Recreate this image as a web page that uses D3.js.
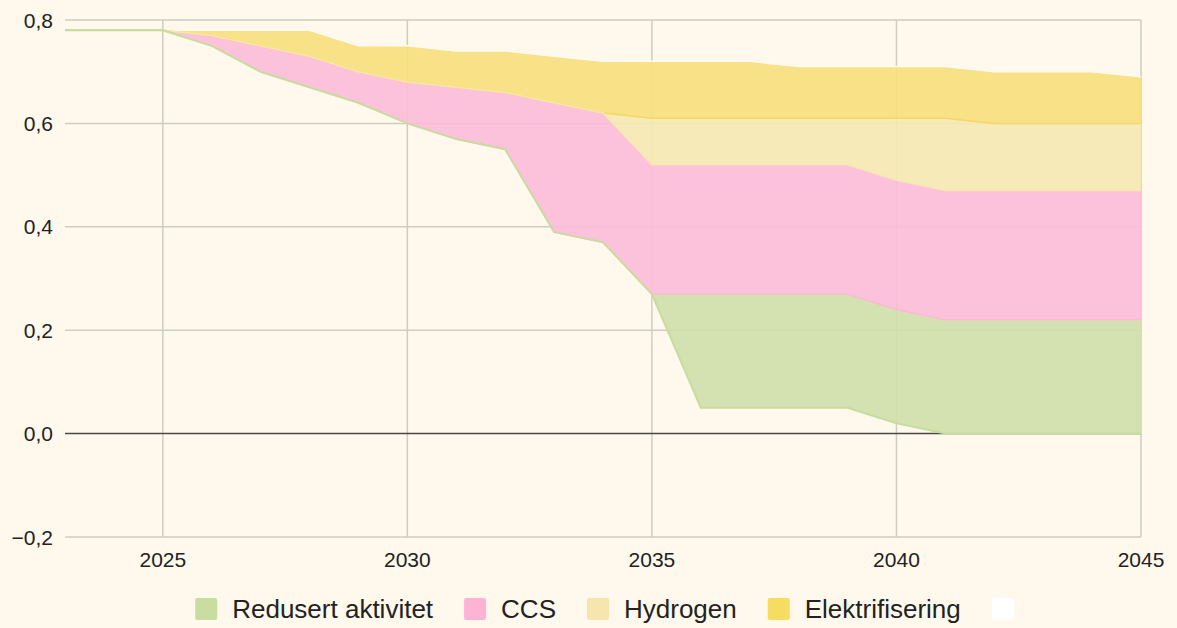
<!DOCTYPE html>
<html>
<head>
<meta charset="utf-8">
<script src="https://cdn.jsdelivr.net/npm/d3@7"></script>
<style>
  body { margin: 0; background: #fef9ec; }
  svg { display: block; font-family: "Liberation Sans", Arial, sans-serif; }
</style>
</head>
<body>
<svg id="chart" width="1177" height="628"></svg>
<script>
// years on the x axis
const years = d3.range(2023, 2046);

// remaining emissions (invisible base series)
const base = [0.78, 0.78, 0.78, 0.75, 0.70, 0.67, 0.64, 0.60, 0.57, 0.55, 0.39, 0.37,
  0.27, 0.05, 0.05, 0.05, 0.05, 0.02, 0, 0, 0, 0, 0];
const redusert = [0, 0, 0, 0, 0, 0, 0, 0, 0, 0, 0, 0,
  0, 0.22, 0.22, 0.22, 0.22, 0.22, 0.22, 0.22, 0.22, 0.22, 0.22];
const ccs = [0, 0, 0, 0.02, 0.05, 0.06, 0.06, 0.08, 0.10, 0.11, 0.25, 0.25,
  0.25, 0.25, 0.25, 0.25, 0.25, 0.25, 0.25, 0.25, 0.25, 0.25, 0.25];
const hydrogen = [0, 0, 0, 0, 0, 0, 0, 0, 0, 0, 0, 0,
  0.09, 0.09, 0.09, 0.09, 0.09, 0.12, 0.14, 0.13, 0.13, 0.13, 0.13];
const elektrifisering = [0, 0, 0, 0.01, 0.03, 0.05, 0.05, 0.07, 0.07, 0.08, 0.09, 0.10,
  0.11, 0.11, 0.11, 0.10, 0.10, 0.10, 0.10, 0.10, 0.10, 0.10, 0.09];

const yTicks = [-0.2, 0, 0.2, 0.4, 0.6, 0.8];
const xTicks = [2025, 2030, 2035, 2040, 2045];

const legendNames = ["Redusert aktivitet", "CCS", "Hydrogen", "Elektrifisering", ""];
const legendColors = ["#c9dda0", "#fdb4d4", "#f6e6ad", "#f6dc60", "#ffffff"];

const rows = years.map((y, i) => ({
  year: y,
  base: base[i],
  red: redusert[i],
  ccs: ccs[i],
  hyd: hydrogen[i],
  el: elektrifisering[i]
}));

const keys = ["base", "red", "ccs", "hyd", "el"];
const stacked = d3.stack().keys(keys)(rows);

const svg = d3.select("#chart");
const x = d3.scaleLinear().domain([2023, 2045]).range([65, 1141]);
const y = d3.scaleLinear().domain([-0.2, 0.8]).range([537, 20]);

// grid
svg.append("g").selectAll("line").data(yTicks.filter(d => d !== 0)).join("line")
  .attr("x1", x(2023)).attr("x2", x(2045))
  .attr("y1", d => y(d)).attr("y2", d => y(d))
  .attr("stroke", "#cfcdc0").attr("stroke-width", 1.5);
svg.append("g").selectAll("line").data(xTicks).join("line")
  .attr("x1", d => x(d)).attr("x2", d => x(d))
  .attr("y1", y(0.8)).attr("y2", y(-0.2))
  .attr("stroke", "#cfcdc0").attr("stroke-width", 1.5);

// zero line
svg.append("line")
  .attr("x1", x(2023)).attr("x2", x(2045))
  .attr("y1", y(0)).attr("y2", y(0))
  .attr("stroke", "#4a4a44").attr("stroke-width", 1.5);

// areas (skip the invisible base)
const area = d3.area()
  .x(d => x(d.data.year))
  .y0(d => y(d[0]))
  .y1(d => y(d[1]));

const fills = ["#d0dfab", "#fdbdd9", "#f5e8b4", "#f8de7e"];
svg.append("g").selectAll("path").data(stacked.slice(1)).join("path")
  .attr("d", area)
  .attr("fill", (d, i) => fills[i])
  .attr("fill-opacity", 0.92);

// series edges
const edge = idx => d3.line()
  .x(d => x(d.data.year))
  .y(d => y(d[1]))(stacked[idx]);

svg.append("path").attr("d", edge(4)).attr("fill", "none")
  .attr("stroke", "#fffbee").attr("stroke-width", 1.5);
svg.append("path").attr("d", edge(3)).attr("fill", "none")
  .attr("stroke", "#f5d95e").attr("stroke-width", 1.5);
svg.append("path").attr("d", edge(2)).attr("fill", "none")
  .attr("stroke", "#f7e6ae").attr("stroke-width", 1.5);
svg.append("path").attr("d", edge(1)).attr("fill", "none")
  .attr("stroke", "#fbb9d6").attr("stroke-width", 1.5);
svg.append("path").attr("d", edge(0)).attr("fill", "none")
  .attr("stroke", "#c8dc9e").attr("stroke-width", 2);

// axis labels
const fmt = v => (v < 0 ? "\u2212" : "") + Math.abs(v).toFixed(1).replace(".", ",");
svg.append("g").selectAll("text").data(yTicks).join("text")
  .attr("x", 53).attr("y", d => y(d) + 7.5)
  .attr("text-anchor", "end")
  .attr("font-size", 21).attr("fill", "#222")
  .text(fmt);
svg.append("g").selectAll("text").data(xTicks).join("text")
  .attr("x", d => x(d)).attr("y", 567)
  .attr("text-anchor", "middle")
  .attr("font-size", 21).attr("fill", "#222")
  .text(d => d);

// legend
const legend = svg.append("g");
let lx = 0;
legendNames.forEach((name, i) => {
  const g = legend.append("g").attr("transform", `translate(${lx},0)`);
  g.append("rect").attr("x", 0).attr("y", 598).attr("width", 22).attr("height", 22)
    .attr("rx", 2).attr("fill", legendColors[i]);
  const t = g.append("text").attr("x", 37).attr("y", 618)
    .attr("font-size", 26).attr("fill", "#222").text(name);
  const w = name ? t.node().getComputedTextLength() : 0;
  lx += 37 + w + 31;
});
const totalW = lx - 31 - 37 + 22;
legend.attr("transform", `translate(${196 + (1013 - 196 - totalW) / 2},0)`);
</script>
</body>
</html>
